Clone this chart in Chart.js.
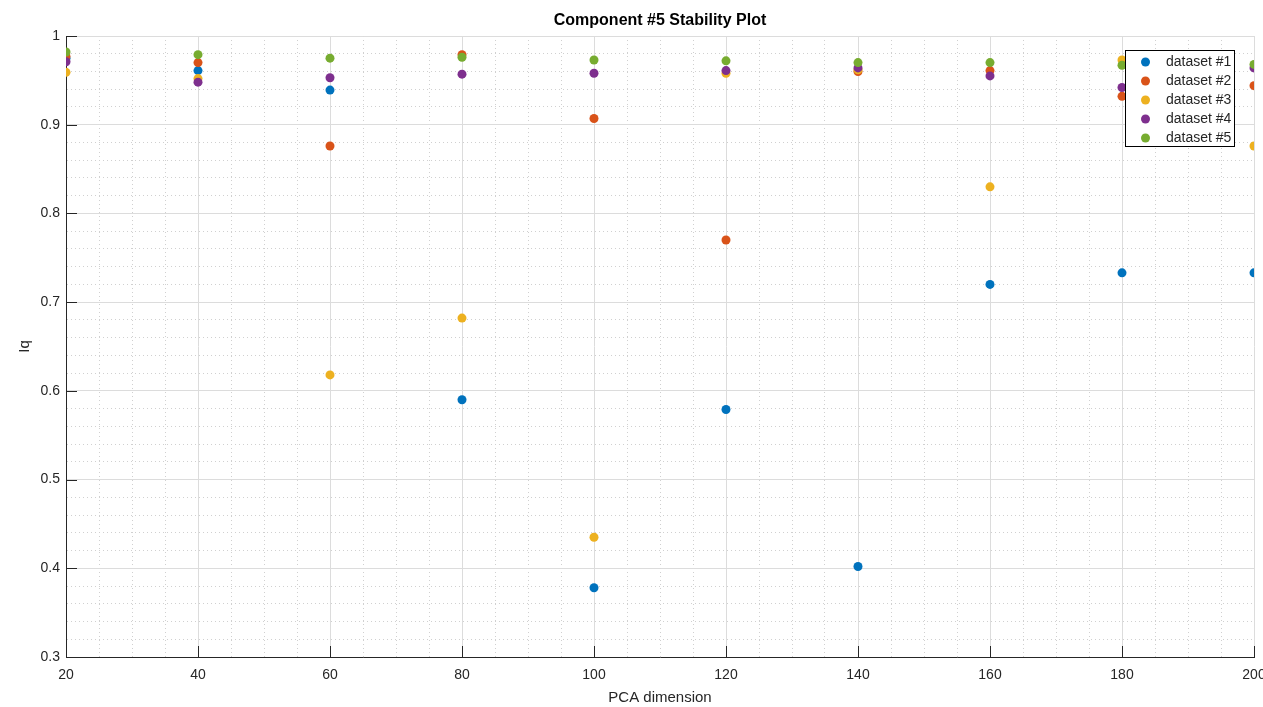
<!DOCTYPE html>
<html>
<head>
<meta charset="utf-8">
<script src="https://cdn.jsdelivr.net/npm/chart.js@4/dist/chart.umd.min.js"></script>
<style>
  body { margin: 0; background: #fff; }
  #wrap { width: 1263px; height: 707px; position: relative; }
</style>
</head>
<body>
<div id="wrap"><canvas id="stability"></canvas></div>
<script>
const chartTitle = 'Component #5 Stability Plot';
const pcaDims = [20, 40, 60, 80, 100, 120, 140, 160, 180, 200];
const seriesNames = ['dataset #1', 'dataset #2', 'dataset #3', 'dataset #4', 'dataset #5'];
const seriesColors = ['#0072BD', '#D95319', '#EDB120', '#7E2F8E', '#77AC30'];

const dataset1 = [0.975, 0.961, 0.939, 0.590, 0.378, 0.579, 0.402, 0.720, 0.733, 0.733];
const dataset2 = [0.977, 0.970, 0.876, 0.979, 0.907, 0.770, 0.960, 0.961, 0.932, 0.944];
const dataset3 = [0.959, 0.952, 0.618, 0.682, 0.435, 0.958, 0.962, 0.830, 0.973, 0.876];
const dataset4 = [0.971, 0.948, 0.953, 0.957, 0.958, 0.961, 0.964, 0.955, 0.942, 0.964];
const dataset5 = [0.982, 0.979, 0.975, 0.976, 0.973, 0.972, 0.970, 0.970, 0.967, 0.968];

const xTickLabels = ['20', '40', '60', '80', '100', '120', '140', '160', '180', '200'];
const yTickLabels = ['0.3', '0.4', '0.5', '0.6', '0.7', '0.8', '0.9', '1'];

const allSeries = [dataset1, dataset2, dataset3, dataset4, dataset5];
const axisColor = '#262626';
const majorGrid = '#dcdcdc';
const minorGrid = '#d0d0d0';

function isMajorX(v) { return Math.abs(v % 20) < 1e-6; }
function isMajorY(v) { return Math.abs(v * 10 - Math.round(v * 10)) < 1e-6; }

// MATLAB-ish inward tick marks on the left and bottom axes
const inwardTicks = {
    id: 'inwardTicks',
    afterDatasetsDraw(chart) {
        const { ctx, chartArea, scales } = chart;
        ctx.save();
        ctx.strokeStyle = axisColor;
        ctx.lineWidth = 1;
        ctx.beginPath();
        xTickLabels.forEach(t => {
            const px = Math.round(scales.x.getPixelForValue(parseFloat(t))) + 0.5;
            ctx.moveTo(px, chartArea.bottom);
            ctx.lineTo(px, chartArea.bottom - 11);
        });
        yTickLabels.forEach(t => {
            const py = Math.round(scales.y.getPixelForValue(parseFloat(t))) + 0.5;
            ctx.moveTo(chartArea.left, py);
            ctx.lineTo(chartArea.left + 11, py);
        });
        ctx.stroke();
        ctx.restore();
    }
};

const titleCentered = {
    id: 'titleCentered',
    afterDraw(chart) {
        const { ctx, chartArea } = chart;
        ctx.save();
        ctx.fillStyle = '#000';
        ctx.font = 'bold 16px "Liberation Sans", Arial, sans-serif';
        ctx.textAlign = 'center';
        ctx.textBaseline = 'middle';
        ctx.fillText(chartTitle, (chartArea.left + chartArea.right) / 2, 21);
        ctx.restore();
    }
};

const boxLegend = {
    id: 'boxLegend',
    afterDraw(chart) {
        const { ctx } = chart;
        const x0 = 1125.5, y0 = 50.5, w = 109, h = 96;
        ctx.save();
        ctx.fillStyle = '#fff';
        ctx.fillRect(x0, y0, w, h);
        ctx.strokeStyle = '#000';
        ctx.lineWidth = 1;
        ctx.strokeRect(x0, y0, w, h);
        ctx.font = '14px "Liberation Sans", Arial, sans-serif';
        ctx.textBaseline = 'middle';
        ctx.textAlign = 'left';
        chart.data.datasets.forEach((ds, i) => {
            const cy = 62 + i * 19;
            ctx.fillStyle = ds.backgroundColor;
            ctx.beginPath();
            ctx.arc(1145.5, cy, 4.5, 0, Math.PI * 2);
            ctx.fill();
            ctx.fillStyle = axisColor;
            ctx.fillText(ds.label, 1166, cy + 0.5);
        });
        ctx.restore();
    }
};

const datasets = allSeries.map((vals, i) => ({
    label: seriesNames[i],
    data: pcaDims.map((d, j) => ({ x: d, y: vals[j] })),
    backgroundColor: seriesColors[i],
    borderColor: seriesColors[i],
    borderWidth: 0,
    pointRadius: 4.5,
    pointHoverRadius: 4.5,
    order: allSeries.length - i
}));

new Chart(document.getElementById('stability'), {
    type: 'scatter',
    data: { datasets: datasets },
    options: {
        responsive: true,
        maintainAspectRatio: false,
        animation: false,
        layout: { padding: { top: 36, right: 9, left: 0, bottom: 0 } },
        plugins: {
            legend: { display: false },
            tooltip: { enabled: false },
            title: { display: false }
        },
        scales: {
            x: {
                type: 'linear',
                min: 20,
                max: 200,
                afterFit(scale) {
                    scale.height = 50;
                    scale.paddingLeft = 0;
                    scale.paddingRight = 0;
                },
                ticks: {
                    stepSize: 5,
                    autoSkip: false,
                    maxRotation: 0,
                    padding: 10,
                    color: axisColor,
                    font: { family: '"Liberation Sans", Arial, sans-serif', size: 14 },
                    callback: (v) => isMajorX(v) ? xTickLabels[Math.round((v - 20) / 20)] : ''
                },
                grid: {
                    drawTicks: false,
                    color: (c) => c.tick && !isMajorX(c.tick.value) ? minorGrid : majorGrid,
                    lineWidth: 1
                },
                border: {
                    display: true,
                    color: axisColor,
                    width: 1,
                    dash: (c) => c.tick && !isMajorX(c.tick.value) ? [1, 3] : []
                },
                title: {
                    display: true,
                    text: 'PCA dimension',
                    color: axisColor,
                    font: { family: '"Liberation Sans", Arial, sans-serif', size: 15 },
                    padding: { top: 0, bottom: 0 }
                }
            },
            y: {
                type: 'linear',
                min: 0.3,
                max: 1,
                afterFit(scale) {
                    scale.width = 66;
                    scale.paddingTop = 0;
                    scale.paddingBottom = 0;
                },
                ticks: {
                    stepSize: 0.02,
                    autoSkip: false,
                    padding: 6,
                    color: axisColor,
                    font: { family: '"Liberation Sans", Arial, sans-serif', size: 14 },
                    callback: (v) => isMajorY(v) ? yTickLabels[Math.round((v - 0.3) * 10)] : ''
                },
                grid: {
                    drawTicks: false,
                    color: (c) => c.tick && !isMajorY(c.tick.value) ? minorGrid : majorGrid,
                    lineWidth: 1
                },
                border: {
                    display: true,
                    color: axisColor,
                    width: 1,
                    dash: (c) => c.tick && !isMajorY(c.tick.value) ? [1, 3] : []
                },
                title: {
                    display: true,
                    text: 'Iq',
                    color: axisColor,
                    font: { family: '"Liberation Sans", Arial, sans-serif', size: 15 },
                    padding: { top: 16, bottom: 0 }
                }
            }
        }
    },
    plugins: [inwardTicks, titleCentered, boxLegend]
});
</script>
</body>
</html>
